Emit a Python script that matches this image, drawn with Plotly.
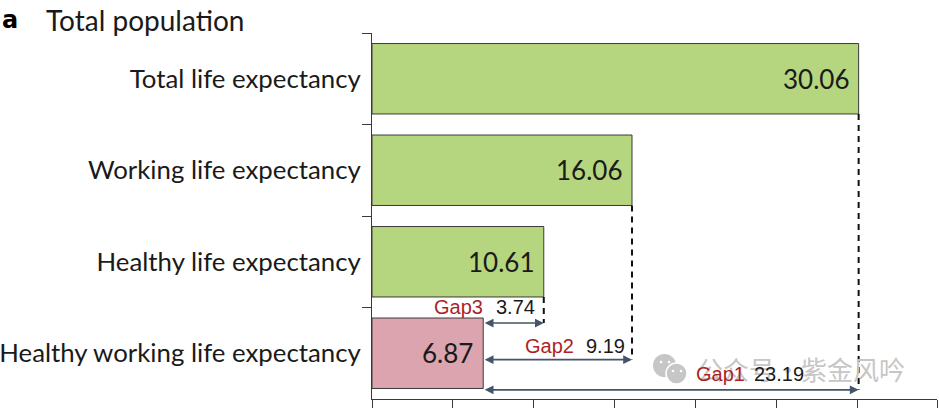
import plotly.graph_objects as go

# values
categories = [
    "Total life expectancy",
    "Working life expectancy",
    "Healthy life expectancy",
    "Healthy working life expectancy",
]
values = [30.06, 16.06, 10.61, 6.87]
bar_colors = ["#b6d57f", "#b6d57f", "#b6d57f", "#dba4ae"]
gap_names = ["Gap1", "Gap2", "Gap3"]
gap_values = [23.19, 9.19, 3.74]
x_ticks = [0, 5, 10, 15, 20, 25, 30, 34.9]

FONT = "Lato, 'Noto Sans', sans-serif"
W, H = 939, 408
L, R, T, B = 372, 2, 33, 9
DARK = "#3a3a3a"
ARROW = "#44546a"
RED = "#ad1f26"
GREY = "#c6c6c6"


def px_x(p):
    return (p - L) / (W - L - R)


def px_y(p):
    return 1 - (p - T) / (H - T - B)


def pixel_text(x, y, text, font):
    # free text placed by page pixel, centred on y
    fig.add_annotation(
        xref="paper", yref="paper", x=px_x(x), y=px_y(y), text=text, showarrow=False,
        xanchor="left", yanchor="middle", font=font,
    )


def dot(cx, cy, r, color, line=None):
    fig.add_shape(
        type="circle", xref="paper", yref="paper", x0=px_x(cx - r), x1=px_x(cx + r),
        y0=px_y(cy + r), y1=px_y(cy - r), fillcolor=color,
        line=line if line else dict(width=0),
    )


fig = go.Figure(
    go.Bar(
        y=categories,
        x=values,
        orientation="h",
        width=0.77,
        marker=dict(color=bar_colors, line=dict(color=DARK, width=1)),
        hoverinfo="skip",
    )
)

# value labels inside the bars
for cat, val in zip(categories, values):
    fig.add_annotation(
        x=val, y=cat, text=f"{val:.2f}", showarrow=False, xanchor="right",
        xshift=-8, font=dict(family=FONT, size=26, color="#1a1a1a"),
    )

# dashed drop lines and gap arrows, lowest arrow belongs to the longest bar
arrow_y = [3.40, 3.07, 2.67]
base = values[3]
for i, ay in enumerate(arrow_y):
    end = values[i]
    fig.add_shape(
        type="line", x0=end, x1=end, y0=i + 0.385, y1=ay,
        line=dict(color="#111111", width=2, dash="6px,5px"),
    )
    fig.add_annotation(
        x=end, y=ay, ax=base, ay=ay, axref="x", ayref="y", xref="x", yref="y",
        text="", showarrow=True, arrowside="end+start", arrowhead=2,
        startarrowhead=2, arrowsize=1.1, startarrowsize=1.1,
        arrowwidth=1.6, arrowcolor=ARROW,
    )

# watermark sits under the gap labels
dot(664.5, 365.5, 11.5, GREY)
dot(676.5, 373.5, 10.5, GREY, dict(color="white", width=1.5))
for ex, ey in [(661, 362), (669, 362), (673, 371), (681, 371)]:
    dot(ex, ey, 1.3, "white")
pixel_text(695, 368, "公众号·紫金风吟", dict(family="'Noto Sans CJK SC'", size=26, color=GREY))

# gap labels
gap_label_pos = [(694, 752, 374), (523, 584, 346), (432, 494, 307)]
for name, gap, (x1, x2, y) in zip(gap_names, gap_values, gap_label_pos):
    pixel_text(x1, y, name, dict(family="'Liberation Sans'", size=20, color=RED))
    pixel_text(x2, y, f"{gap:.2f}", dict(family="'Liberation Sans'", size=20, color="#1a1a1a"))

# panel letter and title
pixel_text(0, 20, "<b>a</b>", dict(family="'DejaVu Sans'", size=24, color="black"))
pixel_text(44, 20, "Total population", dict(family=FONT, size=28, color="#1a1a1a"))

fig.update_xaxes(
    range=[0, 34.9], tickmode="array", tickvals=x_ticks, ticks="outside", ticklen=12,
    showticklabels=False, showgrid=False, zeroline=False, showline=True,
    linecolor=DARK, linewidth=1, tickcolor=DARK,
)
fig.update_yaxes(
    type="category", categoryorder="array", categoryarray=categories, range=[3.5, -0.5],
    tickson="boundaries", ticks="outside", ticklen=9, showgrid=False, zeroline=False,
    showline=True, linecolor=DARK, linewidth=1, tickcolor=DARK, ticklabelstandoff=5,
    tickfont=dict(family=FONT, size=25.8, color="#1a1a1a"),
)
fig.update_layout(
    width=W, height=H, margin=dict(l=L, r=R, t=T, b=B, autoexpand=False),
    paper_bgcolor="white", plot_bgcolor="white", showlegend=False,
)

# the page has a default body margin, drop it so the figure fills the window
fig.write_html(
    "out.html",
    config=dict(displayModeBar=False),
    post_script="document.body.style.margin='0';document.body.style.overflow='hidden';",
)
